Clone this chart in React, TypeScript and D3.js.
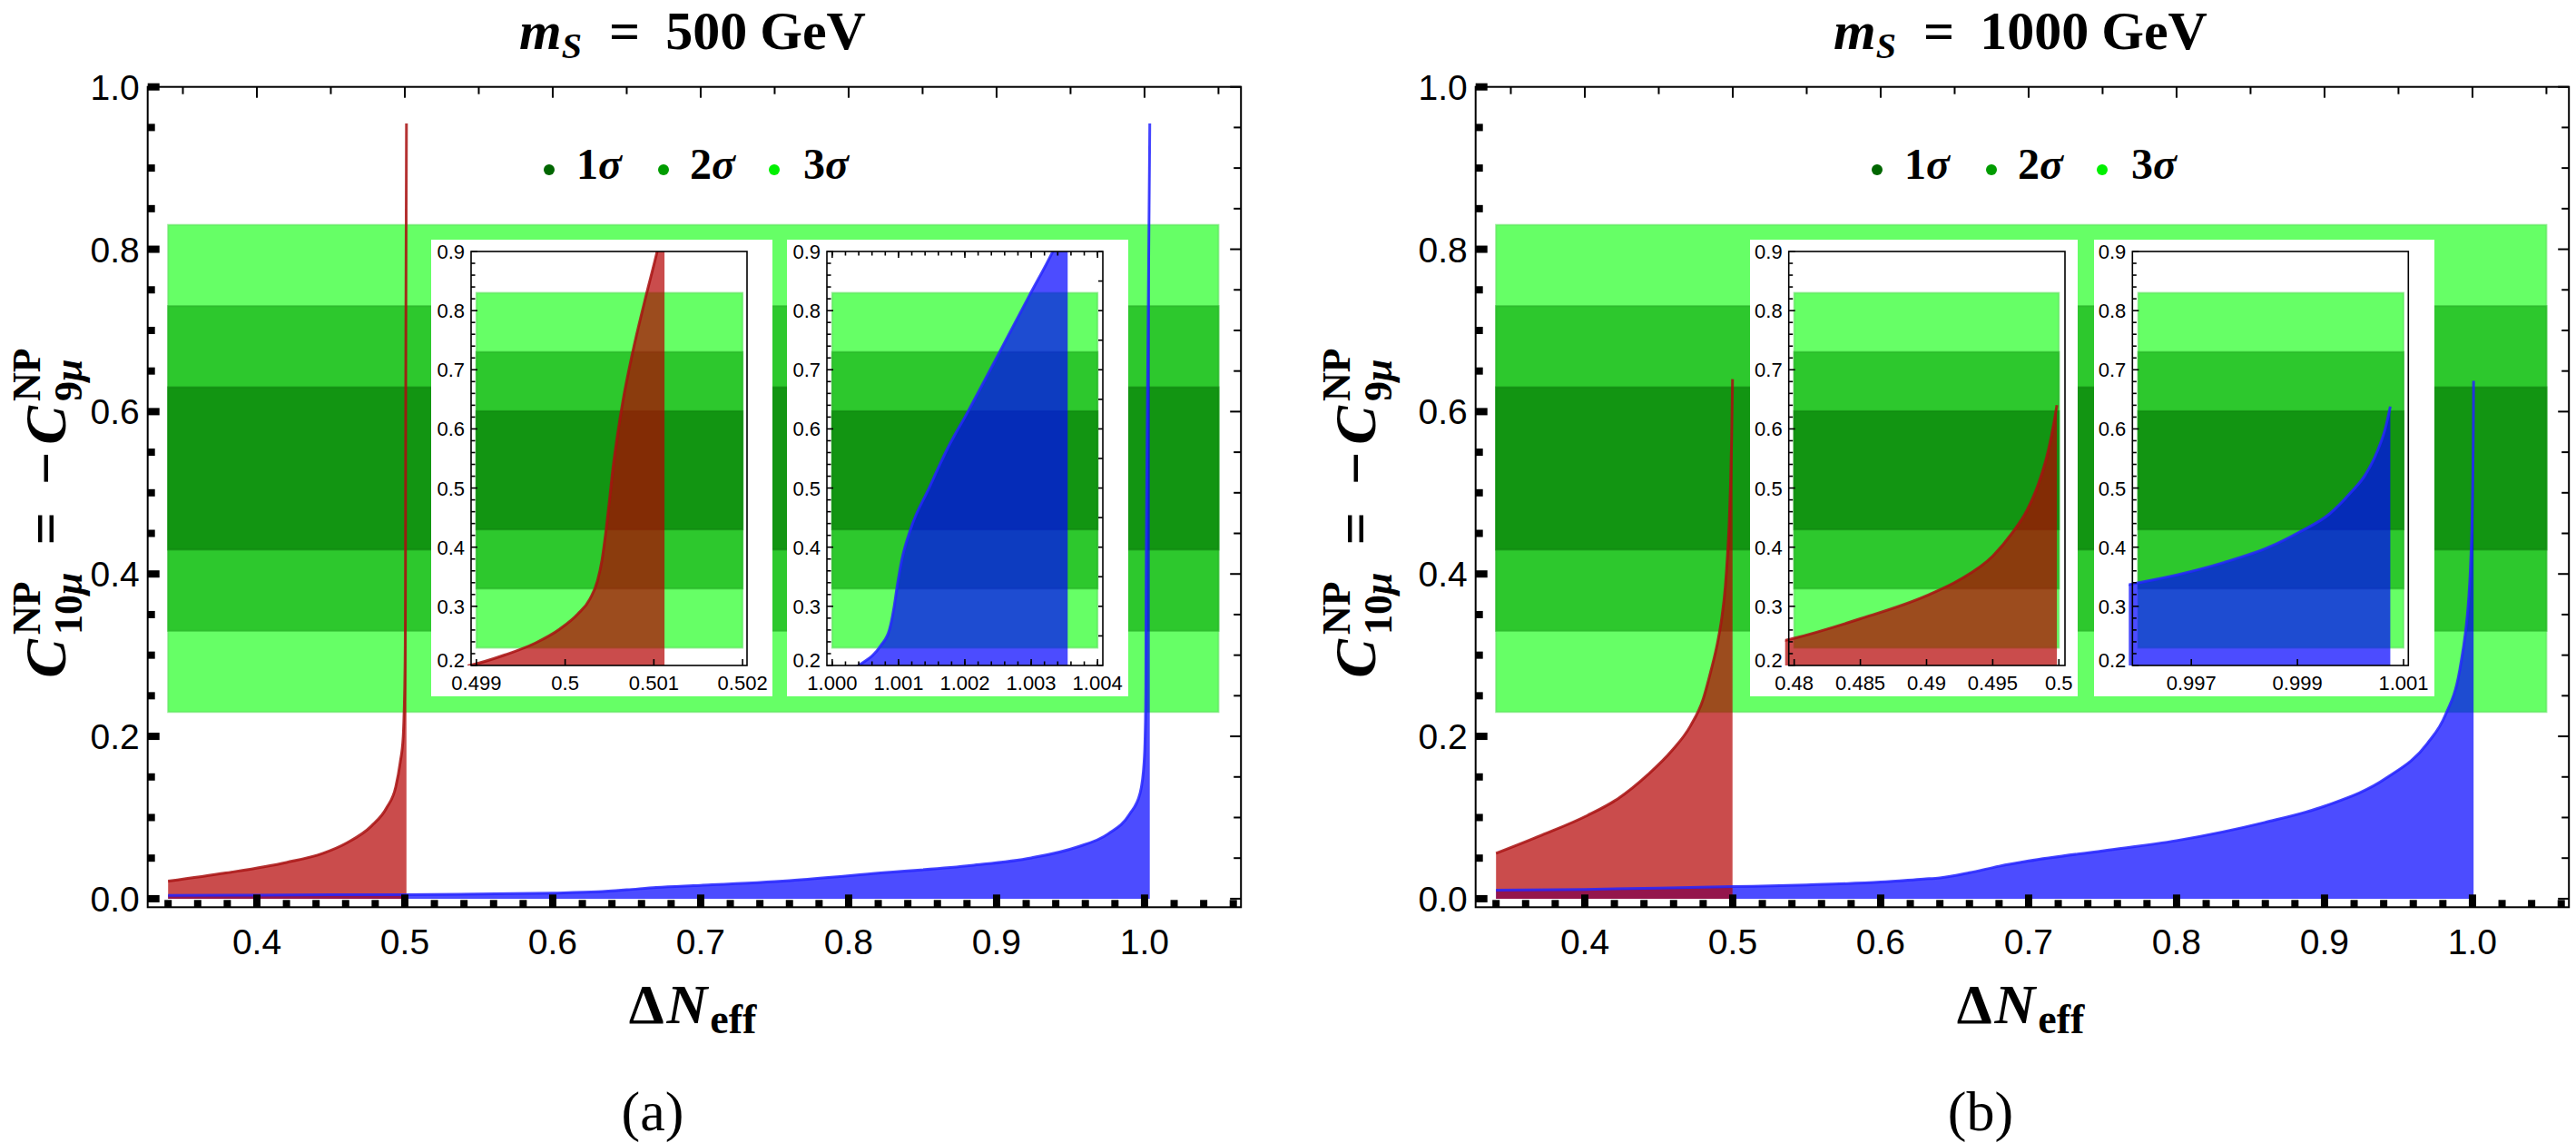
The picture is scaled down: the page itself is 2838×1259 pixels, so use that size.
import React from "react";
import * as d3 from "d3";

// ---------------- data ----------------
const bandLow = [0.43, 0.33, 0.23]; // 1σ, 2σ, 3σ
const bandHigh = [0.63, 0.73, 0.83];
const bandFill = ["#129512", "#2dc82d", "#66ff66"];
const legendDot = ["#006600", "#009c00", "#00f000"];
const legendDigits = ["1", "2", "3"];

const mainYTicks = [0, 0.2, 0.4, 0.6, 0.8, 1.0];
const mainYLabels = ["0.0", "0.2", "0.4", "0.6", "0.8", "1.0"];
const mainXTicks = [0.4, 0.5, 0.6, 0.7, 0.8, 0.9, 1.0];
const mainXLabels = ["0.4", "0.5", "0.6", "0.7", "0.8", "0.9", "1.0"];
const insetYTicks = [0.2, 0.3, 0.4, 0.5, 0.6, 0.7, 0.8, 0.9];
const insetYLabels = ["0.2", "0.3", "0.4", "0.5", "0.6", "0.7", "0.8", "0.9"];

// m_S = 500 GeV
const red500X = [0.34, 0.379, 0.42, 0.4447, 0.461, 0.4774, 0.4877, 0.4939, 0.4969, 0.49892, 0.499324, 0.499665, 0.499938, 0.500143, 0.50028, 0.500364, 0.500416, 0.500462, 0.5005, 0.50054, 0.50059, 0.500655, 0.500757, 0.500894, 0.501037, 0.50112];
const red500Y = [0.0216, 0.0317, 0.0447, 0.056, 0.069, 0.0895, 0.112, 0.138, 0.168, 0.2, 0.218, 0.238, 0.2614, 0.287, 0.3127, 0.343, 0.379, 0.43, 0.48, 0.535, 0.59, 0.6506, 0.727, 0.8144, 0.9, 0.955];
const blue500X = [0.34, 0.4, 0.45, 0.5, 0.55, 0.6, 0.63, 0.65, 0.67, 0.7, 0.76, 0.8215, 0.883, 0.9234, 0.954, 0.9755, 0.9898, 0.997, 0.9997, 1.000398, 1.00073, 1.000864, 1.00093, 1.000978, 1.00105, 1.00118, 1.00146, 1.00173, 1.00205, 1.00251, 1.00297, 1.00333, 1.00355];
const blue500Y = [0.004, 0.0045, 0.0048, 0.005, 0.0058, 0.007, 0.0085, 0.011, 0.014, 0.0165, 0.0224, 0.0317, 0.041, 0.0503, 0.0634, 0.08, 0.104, 0.13, 0.168, 0.2, 0.2333, 0.261, 0.297, 0.333, 0.379, 0.43, 0.5, 0.565, 0.63, 0.727, 0.825, 0.901, 0.955];

// m_S = 1000 GeV
const red1000X = [0.34, 0.3709, 0.4017, 0.4222, 0.4427, 0.459, 0.4713, 0.48, 0.485, 0.49, 0.4925, 0.495, 0.4965, 0.4976, 0.4985, 0.4992, 0.49966, 0.49985];
const red1000Y = [0.0559, 0.0783, 0.1025, 0.123, 0.153, 0.1827, 0.2125, 0.246, 0.279, 0.318, 0.345, 0.385, 0.425, 0.463, 0.51, 0.5635, 0.6147, 0.64];
const blue1000X = [0.34, 0.4, 0.45, 0.5, 0.55, 0.6, 0.629, 0.64, 0.66, 0.68, 0.7, 0.75, 0.8, 0.8596, 0.9, 0.9419, 0.9694, 0.9817, 0.9913, 0.99589, 0.99675, 0.99761, 0.99846, 0.99903, 0.9996, 1.0, 1.00028, 1.00051, 1.00065, 1.00075];
const blue1000Y = [0.0104, 0.0115, 0.013, 0.0149, 0.017, 0.0205, 0.0243, 0.0257, 0.032, 0.04, 0.0465, 0.059, 0.0716, 0.094, 0.114, 0.1488, 0.191, 0.2263, 0.281, 0.338, 0.3536, 0.374, 0.4, 0.4253, 0.456, 0.492, 0.5226, 0.5635, 0.599, 0.6378];

const inset500aTicks = [0.499, 0.5, 0.501, 0.502];
const inset500aLabels = ["0.499", "0.5", "0.501", "0.502"];
const inset500bTicks = [1.0, 1.001, 1.002, 1.003, 1.004];
const inset500bLabels = ["1.000", "1.001", "1.002", "1.003", "1.004"];
const inset1000aTicks = [0.48, 0.485, 0.49, 0.495, 0.5];
const inset1000aLabels = ["0.48", "0.485", "0.49", "0.495", "0.5"];
const inset1000bTicks = [0.997, 0.999, 1.001];
const inset1000bLabels = ["0.997", "0.999", "1.001"];

// ---------------- layout ----------------
const W = 2838;
const H = 1259;
const SANS = "'Liberation Sans', Arial, sans-serif";
const SERIF = "'Liberation Serif', 'Times New Roman', serif";
const FRAME_TOP = 95.7;
const FRAME_BOTTOM = 999.3;
const FRAME_W = 1204.5;
const X_DOMAIN: [number, number] = [0.3262, 1.0652];
const Y_DOMAIN: [number, number] = [-0.0105, 1];
const BAND_X: [number, number] = [0.34, 1.05];

type Pt = [number, number];
const zip = (xs: number[], ys: number[]): Pt[] => xs.map((x, i) => [x, ys[i]]);
const isMult = (v: number, s: number) => Math.abs(v / s - Math.round(v / s)) < 1e-6;

interface InsetSpec {
  box: [number, number, number, number];
  frame: [number, number, number, number];
  xDomain: [number, number];
  bandX: [number, number];
  ticks: number[];
  labels: string[];
  minorStep?: number;
  mirror?: boolean;
}

const Bands: React.FC<{ x: d3.ScaleLinear<number, number>; y: d3.ScaleLinear<number, number>; x0: number; x1: number }> = ({ x, y, x0, x1 }) => (
  <g>
    {[2, 1, 0].map((i) => (
      <rect
        key={i}
        x={x(x0)}
        width={x(x1) - x(x0)}
        y={y(bandHigh[i])}
        height={y(bandLow[i]) - y(bandHigh[i])}
        fill={bandFill[i]}
        stroke={d3.color(bandFill[i])!.darker(0.35).formatHex()}
        strokeOpacity={0.6}
        strokeWidth={2}
      />
    ))}
  </g>
);

const Inset: React.FC<{ id: string; spec: InsetSpec; red: Pt[]; blue: Pt[] }> = ({ id, spec, red, blue }) => {
  const [fx0, fy0, fx1, fy1] = spec.frame;
  const x = d3.scaleLinear().domain(spec.xDomain).range([fx0, fx1]);
  const y = d3.scaleLinear().domain([0.2, 0.9]).range([fy1, fy0]);
  const area = d3.area<Pt>().x((d) => x(d[0])).y0(y(0)).y1((d) => y(d[1])).curve(d3.curveMonotoneX);
  const line = d3.line<Pt>().x((d) => x(d[0])).y((d) => y(d[1])).curve(d3.curveMonotoneX);
  const yMinor = d3.range(0.2, 0.9001, 0.02);
  const minorVals = spec.minorStep
    ? d3.range(Math.ceil(spec.xDomain[0] / spec.minorStep), Math.floor(spec.xDomain[1] / spec.minorStep) + 1).map((k) => k * spec.minorStep!)
    : [];
  const [bx0, by0, bx1, by1] = spec.box;
  return (
    <g>
      <defs>
        <clipPath id={id}>
          <rect x={fx0 - 4} y={fy0} width={fx1 - fx0 + 4} height={fy1 - fy0} />
        </clipPath>
      </defs>
      <rect x={bx0} y={by0} width={bx1 - bx0} height={by1 - by0} fill="#ffffff" />
      <Bands x={x} y={y} x0={spec.bandX[0]} x1={spec.bandX[1]} />
      <g clipPath={`url(#${id})`}>
        <path d={area(blue)!} fill="#0000ff" fillOpacity={0.7} />
        <path d={area(red)!} fill="#b30000" fillOpacity={0.7} />
        <path d={line(blue)!} fill="none" stroke="#2424ff" strokeWidth={3} strokeOpacity={0.85} />
        <path d={line(red)!} fill="none" stroke="#a81010" strokeWidth={3} strokeOpacity={0.85} />
      </g>
      <rect x={fx0} y={fy0} width={fx1 - fx0} height={fy1 - fy0} fill="none" stroke="#000" strokeWidth={1.6} />
      {yMinor.map((v, i) => (
        <line key={`yl${i}`} x1={fx0} x2={fx0 + (isMult(v, 0.1) ? 7 : 4.5)} y1={y(v)} y2={y(v)} stroke="#000" strokeWidth={1.6} />
      ))}
      {spec.mirror &&
        d3.range(0.2, 0.9001, 0.05).map((v, i) => (
          <line key={`yr${i}`} x1={fx1} x2={fx1 - 5} y1={y(v)} y2={y(v)} stroke="#000" strokeWidth={1.6} />
        ))}
      {spec.ticks.map((v, i) => (
        <line key={`xb${i}`} x1={x(v)} x2={x(v)} y1={fy1} y2={fy1 - 7} stroke="#000" strokeWidth={1.6} />
      ))}
      {minorVals.map((v, i) => (
        <g key={`xm${i}`}>
          <line x1={x(v)} x2={x(v)} y1={fy1} y2={fy1 - 4.5} stroke="#000" strokeWidth={1.6} />
          {spec.mirror && <line x1={x(v)} x2={x(v)} y1={fy0} y2={fy0 + 4.5} stroke="#000" strokeWidth={1.6} />}
        </g>
      ))}
      {spec.mirror &&
        spec.ticks.map((v, i) => (
          <line key={`xt${i}`} x1={x(v)} x2={x(v)} y1={fy0} y2={fy0 + 7} stroke="#000" strokeWidth={1.6} />
        ))}
      {insetYTicks.map((v, i) => (
        <text key={`yt${i}`} x={fx0 - 7} y={y(v) + (i === 0 ? 2 : 8)} textAnchor="end" fontFamily={SANS} fontSize={22}>
          {insetYLabels[i]}
        </text>
      ))}
      {spec.ticks.map((v, i) => (
        <text key={`xtl${i}`} x={x(v)} y={fy1 + 27} textAnchor="middle" fontFamily={SANS} fontSize={22}>
          {spec.labels[i]}
        </text>
      ))}
    </g>
  );
};

interface PanelProps {
  id: string;
  left: number;
  mass: string;
  tag: string;
  yLabelX: number;
  red: Pt[];
  blue: Pt[];
  insets: InsetSpec[];
}

const Panel: React.FC<PanelProps> = ({ id, left, mass, tag, yLabelX, red, blue, insets }) => {
  const right = left + FRAME_W;
  const x = d3.scaleLinear().domain(X_DOMAIN).range([left, right]);
  const y = d3.scaleLinear().domain(Y_DOMAIN).range([FRAME_BOTTOM, FRAME_TOP]);
  const area = d3.area<Pt>().x((d) => x(d[0])).y0(y(0)).y1((d) => y(d[1])).curve(d3.curveMonotoneX);
  const line = d3.line<Pt>().x((d) => x(d[0])).y((d) => y(d[1])).curve(d3.curveMonotoneX);

  const bottomTicks = d3.range(0.34, 1.0601, 0.02);
  const topTicks = d3.range(0.35, 1.0501, 0.05);
  const sideTicks = d3.range(0, 1.0001, 0.05);
  const clipId = `clip-${id}`;

  const legendDotOff = [442.3, 568.3, 690.3];
  const legendTextOff = [472.3, 597.3, 722.3];

  return (
    <g>
      <defs>
        <clipPath id={clipId}>
          <rect x={left} y={FRAME_TOP} width={FRAME_W} height={FRAME_BOTTOM - FRAME_TOP} />
        </clipPath>
      </defs>

      <Bands x={x} y={y} x0={BAND_X[0]} x1={BAND_X[1]} />
      <g clipPath={`url(#${clipId})`}>
        <path d={area(blue)!} fill="#0000ff" fillOpacity={0.7} />
        <path d={area(red)!} fill="#b30000" fillOpacity={0.7} />
        <path d={line(blue)!} fill="none" stroke="#2424ff" strokeWidth={3} strokeOpacity={0.85} />
        <path d={line(red)!} fill="none" stroke="#a81010" strokeWidth={3} strokeOpacity={0.85} />
      </g>

      {insets.map((s, i) => (
        <Inset key={i} id={`${id}-inset${i}`} spec={s} red={red} blue={blue} />
      ))}

      {/* frame */}
      <rect x={left} y={FRAME_TOP} width={FRAME_W} height={FRAME_BOTTOM - FRAME_TOP} fill="none" stroke="#000" strokeWidth={2} />

      {/* thick ticks: left and bottom */}
      {sideTicks.map((v, i) => (
        <rect key={`l${i}`} x={left} y={y(v) - 4} width={isMult(v, 0.2) ? 13 : 8} height={8} fill="#000" />
      ))}
      {bottomTicks.map((v, i) => (
        <rect key={`b${i}`} x={x(v) - 4} y={FRAME_BOTTOM - (isMult(v, 0.1) ? 14 : 8)} width={8} height={isMult(v, 0.1) ? 14 : 8} fill="#000" />
      ))}
      {/* thin ticks: top and right */}
      {topTicks.map((v, i) => (
        <line key={`t${i}`} x1={x(v)} x2={x(v)} y1={FRAME_TOP} y2={FRAME_TOP + (isMult(v, 0.1) ? 12 : 8)} stroke="#000" strokeWidth={2} />
      ))}
      {sideTicks.map((v, i) => (
        <line key={`r${i}`} x1={right} x2={right - (isMult(v, 0.2) ? 12 : 8)} y1={y(v)} y2={y(v)} stroke="#000" strokeWidth={2} />
      ))}

      {/* tick labels */}
      {mainYTicks.map((v, i) => (
        <text key={`yl${i}`} x={left - 9} y={y(v) + 14} textAnchor="end" fontFamily={SANS} fontSize={39}>
          {mainYLabels[i]}
        </text>
      ))}
      {mainXTicks.map((v, i) => (
        <text key={`xl${i}`} x={x(v)} y={1051} textAnchor="middle" fontFamily={SANS} fontSize={39}>
          {mainXLabels[i]}
        </text>
      ))}

      {/* legend */}
      {legendDigits.map((d, i) => (
        <g key={`lg${i}`}>
          <circle cx={left + legendDotOff[i]} cy={187} r={6} fill={legendDot[i]} />
          <text x={left + legendTextOff[i]} y={197} fontFamily={SERIF} fontWeight="bold" fontSize={48}>
            {d}
            <tspan fontStyle="italic">σ</tspan>
          </text>
        </g>
      ))}

      {/* title */}
      <text x={left + 600.3} y={54} textAnchor="middle" fontFamily={SERIF} fontWeight="bold" fontSize={60}>
        <tspan fontStyle="italic">m</tspan>
        <tspan fontStyle="italic" fontSize={40} dy={10}>S</tspan>
        <tspan dx={30} dy={-10}>=</tspan>
        <tspan dx={28}>{mass}</tspan>
        <tspan dx={14}>GeV</tspan>
      </text>

      {/* x axis title */}
      <text x={left + 600.3} y={1127} textAnchor="middle" fontFamily={SERIF} fontWeight="bold" fontSize={62}>
        Δ<tspan fontStyle="italic" dx={3}>N</tspan>
        <tspan fontSize={46} dx={3} dy={11}>eff</tspan>
      </text>

      {/* y axis title */}
      <text transform={`translate(${yLabelX},565) rotate(-90)`} textAnchor="middle" fontFamily={SERIF} fontWeight="bold" fontSize={64}>
        <tspan fontStyle="italic">C</tspan>
        <tspan fontSize={44} dx={5} dy={-28}>NP</tspan>
        <tspan fontSize={44} dx={-58.7} dy={46}>10</tspan>
        <tspan fontSize={44} fontStyle="italic">μ</tspan>
        <tspan dx={30} dy={-18}>=</tspan>
        <tspan dx={30}>−</tspan>
        <tspan fontStyle="italic" dx={8}>C</tspan>
        <tspan fontSize={44} dx={5} dy={-28}>NP</tspan>
        <tspan fontSize={44} dx={-58.7} dy={46}>9</tspan>
        <tspan fontSize={44} fontStyle="italic">μ</tspan>
      </text>

      {/* panel tag */}
      <text x={left + 556.3} y={1245} textAnchor="middle" fontFamily={SERIF} fontSize={62}>
        ({tag})
      </text>
    </g>
  );
};

const insets500: InsetSpec[] = [
  { box: [475, 264, 851, 767], frame: [519, 277, 823, 733], xDomain: [0.49894, 0.50205], bandX: [0.499, 0.502], ticks: inset500aTicks, labels: inset500aLabels },
  { box: [867, 264, 1243, 767], frame: [911, 277, 1215, 733], xDomain: [0.99992, 1.00408], bandX: [1.0, 1.004], ticks: inset500bTicks, labels: inset500bLabels, minorStep: 0.0002, mirror: true },
];
const insets1000: InsetSpec[] = [
  { box: [1928, 264, 2289, 767], frame: [1970.7, 277, 2275, 733], xDomain: [0.47959, 0.50046], bandX: [0.48, 0.5], ticks: inset1000aTicks, labels: inset1000aLabels },
  { box: [2307, 264, 2682, 767], frame: [2349.3, 277, 2653.3, 733], xDomain: [0.99589, 1.00109], bandX: [0.996, 1.001], ticks: inset1000bTicks, labels: inset1000bLabels },
];

export default function App() {
  return (
    <div style={{ position: "absolute", left: 0, top: 0 }}>
      <svg width={W} height={H} viewBox={`0 0 ${W} ${H}`} style={{ display: "block", background: "#fff" }}>
        <rect width={W} height={H} fill="#fff" />
        <Panel id="a" left={162.7} mass="500" tag="a" yLabelX={72} red={zip(red500X, red500Y)} blue={zip(blue500X, blue500Y)} insets={insets500} />
        <Panel id="b" left={1625.7} mass="1000" tag="b" yLabelX={1515} red={zip(red1000X, red1000Y)} blue={zip(blue1000X, blue1000Y)} insets={insets1000} />
      </svg>
    </div>
  );
}
